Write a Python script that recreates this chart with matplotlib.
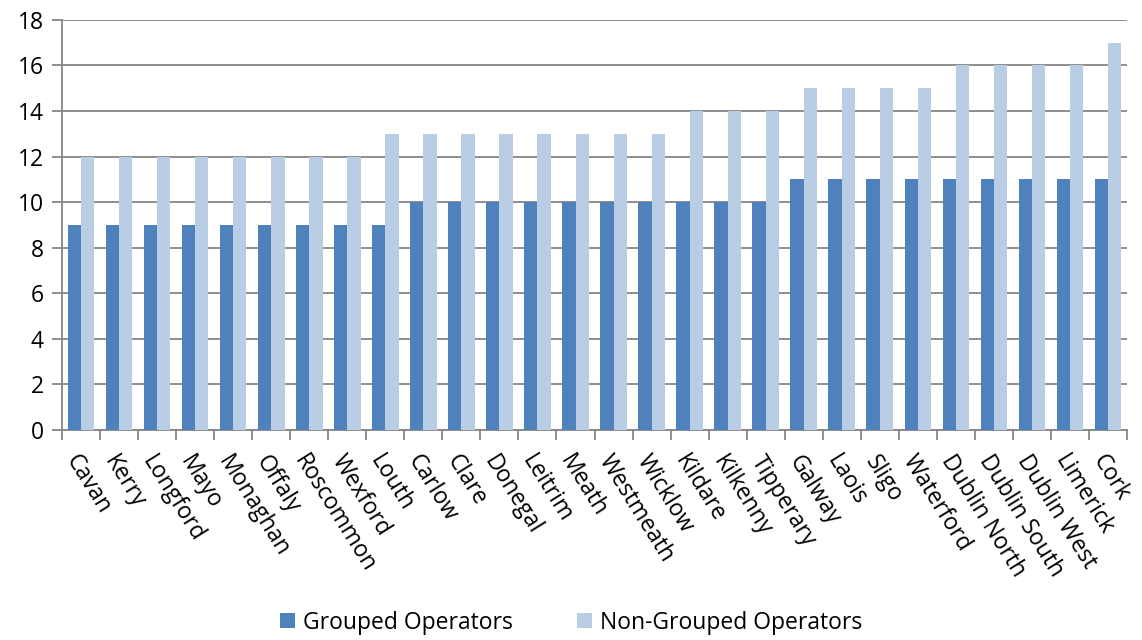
import numpy as np
import matplotlib.pyplot as plt
from matplotlib.ticker import FixedLocator

counties = ['Cavan', 'Kerry', 'Longford', 'Mayo', 'Monaghan', 'Offaly', 'Roscommon',
            'Wexford', 'Louth', 'Carlow', 'Clare', 'Donegal', 'Leitrim', 'Meath',
            'Westmeath', 'Wicklow', 'Kildare', 'Kilkenny', 'Tipperary', 'Galway',
            'Laois', 'Sligo', 'Waterford', 'Dublin North', 'Dublin South',
            'Dublin West', 'Limerick', 'Cork']
grouped = [9, 9, 9, 9, 9, 9, 9, 9, 9, 10, 10, 10, 10, 10, 10, 10, 10, 10, 10,
           11, 11, 11, 11, 11, 11, 11, 11, 11]
non_grouped = [12, 12, 12, 12, 12, 12, 12, 12, 13, 13, 13, 13, 13, 13, 13, 13,
               14, 14, 14, 15, 15, 15, 15, 16, 16, 16, 16, 17]

plt.rcParams['font.family'] = ['Open Sans', 'DejaVu Sans']

fig = plt.figure(figsize=(11.42, 6.4), dpi=100)
ax = fig.add_axes([0.0543, 0.328, 0.9326, 0.641])

x = np.arange(len(counties))
w = 0.35
ax.bar(x - w / 2, grouped, w, color='#4F81BD', label='Grouped Operators', zorder=3)
ax.bar(x + w / 2, non_grouped, w, color='#B9CDE5', label='Non-Grouped Operators', zorder=3)

ax.set_xlim(-0.5, len(counties) - 0.5)
ax.set_ylim(0, 18)
ax.set_yticks(range(0, 19, 2))
ax.grid(axis='y', color='#868686', linewidth=1.3, zorder=0)

ax.set_xticks(x)
ax.set_xticklabels(counties, rotation=-58, ha='left', va='top',
                   rotation_mode='anchor', fontsize=16.5)
ax.tick_params(axis='x', which='major', length=0, pad=15)
ax.xaxis.set_minor_locator(FixedLocator(np.arange(-0.5, len(counties), 1)))
ax.tick_params(axis='x', which='minor', length=7, color='#868686', width=1.3)
ax.tick_params(axis='y', labelsize=16.5, length=7, color='#868686', width=1.3, pad=6)

for side in ['top', 'right']:
    ax.spines[side].set_visible(False)
for side in ['left', 'bottom']:
    ax.spines[side].set_color('#868686')
    ax.spines[side].set_linewidth(1.3)

fig.legend(loc='center', bbox_to_anchor=(0.5, 0.027), ncol=2, frameon=False,
           fontsize=16.5, handlelength=0.65, handleheight=0.65, columnspacing=2.8,
           handletextpad=0.35)

fig.savefig('out.png', dpi=100)
